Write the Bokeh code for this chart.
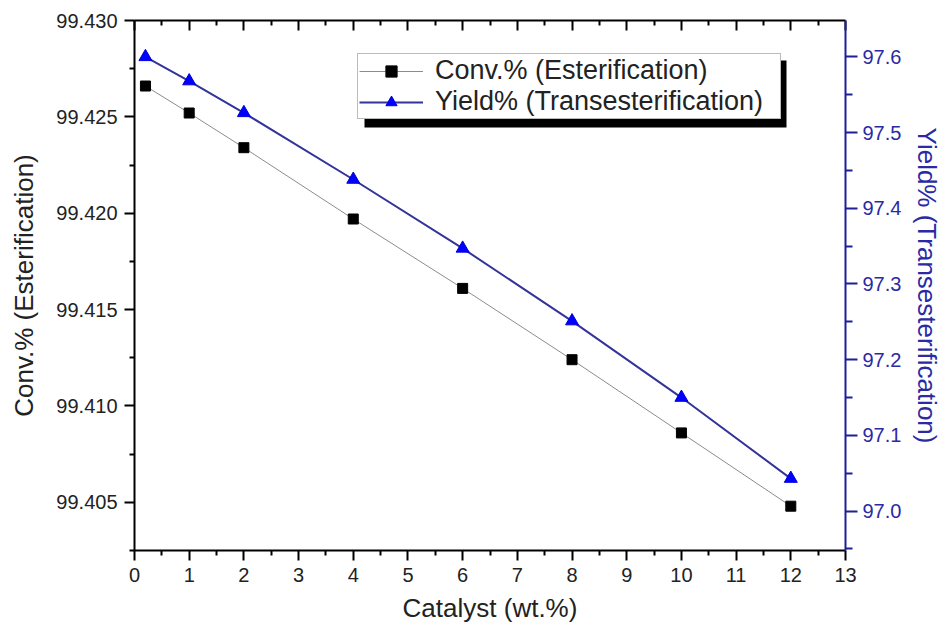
from bokeh.plotting import figure
from bokeh.models import (Range1d, LinearAxis, FixedTicker, PrintfTickFormatter,
                          Legend, LegendItem, BoxAnnotation, ColumnDataSource)
from bokeh.embed import file_html
from bokeh.resources import INLINE

# ---- data ----
catalyst = [0.2, 1, 2, 4, 6, 8, 10, 12]
conv_pct = [99.4266, 99.4252, 99.4234, 99.4197, 99.4161, 99.4124, 99.4086, 99.4048]
yield_pct = [97.600, 97.568, 97.526, 97.438, 97.347, 97.251, 97.150, 97.043]

x_ticks = list(range(0, 14))
x_minor = [i + 0.5 for i in range(13)]
left_ticks = [99.405, 99.410, 99.415, 99.420, 99.425, 99.430]
left_minor = [99.4025, 99.4075, 99.4125, 99.4175, 99.4225, 99.4275]
right_ticks = [97.0, 97.1, 97.2, 97.3, 97.4, 97.5, 97.6]
right_minor = [96.95, 97.05, 97.15, 97.25, 97.35, 97.45, 97.55]

label_conv = "Conv.% (Esterification)"
label_yield = "Yield% (Transesterification)"
x_title = "Catalyst (wt.%)"

FONT = "Liberation Sans"
NAVY = "#1f1f96"
NAVY_TXT = "#2a2aa5"

p = figure(width=945, height=627, output_backend="svg", toolbar_location=None,
           x_range=Range1d(0, 13), y_range=Range1d(99.4025, 99.430),
           x_axis_location=None, y_axis_location=None,
           min_border_left=134, min_border_right=97, min_border_top=20,
           min_border_bottom=77)
p.extra_y_ranges = {"right": Range1d(96.948, 97.648)}
p.outline_line_color = None
p.grid.visible = False
p.background_fill_color = "white"
p.border_fill_color = "white"


def style(ax, color="black", txt="black"):
    ax.axis_line_color = color
    ax.axis_line_width = 2
    ax.major_tick_line_color = color
    ax.minor_tick_line_color = color
    ax.major_tick_line_width = 2
    ax.minor_tick_line_width = 2
    ax.major_label_text_font = FONT
    ax.major_label_text_font_size = "20px"
    ax.major_label_text_color = txt
    ax.axis_label_text_font = FONT
    ax.axis_label_text_font_style = "normal"
    ax.axis_label_text_font_size = "26px"
    ax.axis_label_text_color = txt


bottom = LinearAxis(ticker=FixedTicker(ticks=x_ticks, minor_ticks=x_minor),
                    axis_label=x_title)
style(bottom, txt="#222222")
bottom.major_tick_out = 10
bottom.major_tick_in = 0
bottom.minor_tick_out = 5
bottom.minor_tick_in = 0
bottom.major_label_standoff = 7
bottom.axis_label_standoff = 8
p.add_layout(bottom, "below")

top = LinearAxis(ticker=FixedTicker(ticks=x_ticks, minor_ticks=x_minor))
style(top)
top.major_tick_out = 0
top.major_tick_in = 10
top.minor_tick_out = 0
top.minor_tick_in = 5
top.major_label_text_font_size = "1px"
top.major_label_text_color = None
top.major_label_standoff = 0
p.add_layout(top, "above")

left = LinearAxis(ticker=FixedTicker(ticks=left_ticks, minor_ticks=left_minor),
                  formatter=PrintfTickFormatter(format="%.3f"),
                  axis_label=label_conv)
style(left, txt="#222222")
left.major_tick_out = 10
left.major_tick_in = 0
left.minor_tick_out = 5
left.minor_tick_in = 0
left.major_label_standoff = 7
left.axis_label_standoff = 14
p.add_layout(left, "left")

right = LinearAxis(y_range_name="right",
                   ticker=FixedTicker(ticks=right_ticks, minor_ticks=right_minor),
                   formatter=PrintfTickFormatter(format="%.1f"),
                   axis_label=label_yield)
style(right, color=NAVY, txt=NAVY_TXT)
right.major_tick_out = 12
right.major_tick_in = 0
right.minor_tick_out = 7
right.minor_tick_in = 0
right.major_label_standoff = 5
right.axis_label_standoff = 8
p.add_layout(right, "right")

src = ColumnDataSource(dict(x=catalyst, conv=conv_pct, yld=yield_pct))

l1 = p.line("x", "conv", source=src, line_color="#8c8c8c", line_width=1)
s1 = p.scatter("x", "conv", source=src, marker="square", size=10,
               fill_color="black", line_color="black")
l2 = p.line("x", "yld", source=src, y_range_name="right",
            line_color="#33339a", line_width=2)
s2 = p.scatter("x", "yld", source=src, y_range_name="right", marker="triangle",
               size=13, fill_color="#0000ff", line_color="#0000dd")

shadow = BoxAnnotation(left=364, right=786, top=60, bottom=127,
                       left_units="canvas", right_units="canvas",
                       top_units="canvas", bottom_units="canvas",
                       fill_color="black", fill_alpha=1.0, line_color=None)
p.add_layout(shadow)

legend = Legend(items=[LegendItem(label=label_conv, renderers=[l1, s1]),
                       LegendItem(label=label_yield, renderers=[l2, s2])],
                location=(223, 431), orientation="vertical")
legend.label_text_font = FONT
legend.label_text_font_size = "27px"
legend.label_text_color = "#222222"
legend.glyph_width = 64
legend.glyph_height = 28
legend.label_height = 28
legend.label_width = 344
legend.label_standoff = 12
legend.padding = 1
legend.spacing = 0
legend.margin = 0
legend.border_line_color = "#777777"
legend.border_line_width = 1
legend.background_fill_color = "white"
legend.background_fill_alpha = 1.0
p.add_layout(legend)

open("out.html", "w").write(file_html(p, INLINE))
